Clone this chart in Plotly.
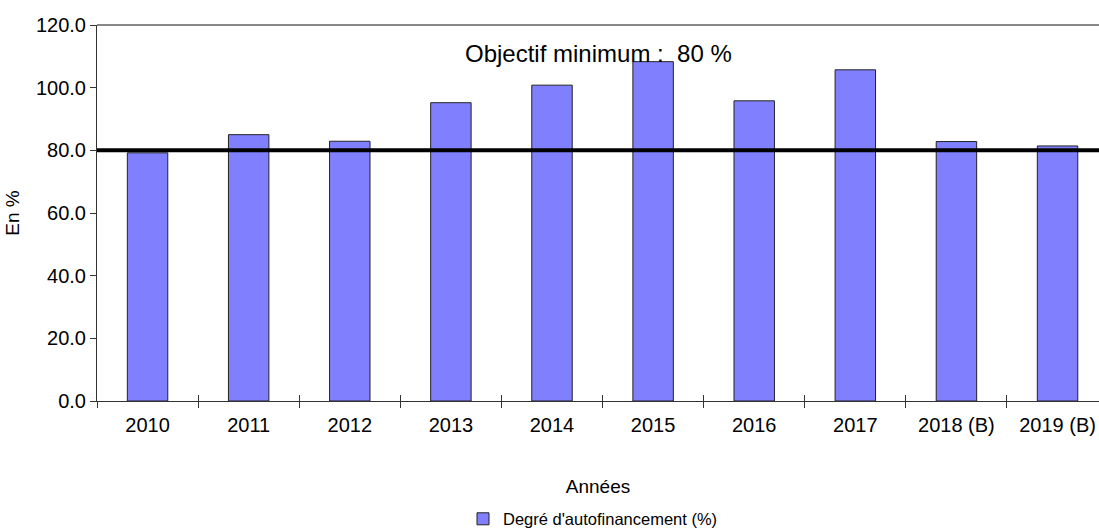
import plotly.graph_objects as go

categories = ["2010", "2011", "2012", "2013", "2014", "2015", "2016", "2017", "2018 (B)", "2019 (B)"]
autofinancement = [79.2, 85.0, 82.9, 95.2, 100.8, 108.3, 95.8, 105.7, 82.8, 81.4]
objectif = 80
y_ticks = [0, 20, 40, 60, 80, 100, 120]
series_name = "Degré d'autofinancement (%)"

FONT = "Liberation Sans, Arial, sans-serif"
X_RANGE = [-0.5, 9.41]

fig = go.Figure()
fig.add_trace(go.Bar(
    x=categories, y=autofinancement, name=series_name,
    marker=dict(color="#8080FF", line=dict(color="#222222", width=1)),
    width=0.4, showlegend=True,
))
# helper trace so the overlaid tick axis (inside ticks -> crossing ticks) is drawn
fig.add_trace(go.Scatter(x=[None], y=[None], xaxis="x2", yaxis="y",
                         showlegend=False, hoverinfo="skip"))

fig.update_layout(
    width=1099, height=532,
    paper_bgcolor="white", plot_bgcolor="white",
    margin=dict(l=97, r=0, t=25, b=131, autoexpand=False),
    font=dict(family=FONT, color="black"),
    showlegend=True,
    legend=dict(
        orientation="h", x=0.495, xanchor="center", y=-0.314, yanchor="middle",
        font=dict(family=FONT, size=16.5, color="black"),
        itemwidth=30, bgcolor="rgba(0,0,0,0)",
    ),
    xaxis=dict(
        type="category", categoryorder="array", categoryarray=categories,
        range=X_RANGE, tickson="boundaries", ticks="outside", ticklen=6,
        tickcolor="#333333", showline=True, linecolor="#333333", linewidth=1,
        showgrid=False, zeroline=False, automargin=False, ticklabelstandoff=6,
        tickfont=dict(family=FONT, size=20, color="black"),
        title=dict(text="Années", font=dict(family=FONT, size=19, color="black"), standoff=44),
    ),
    xaxis2=dict(
        overlaying="x", range=X_RANGE,
        tickvals=[i - 0.5 for i in range(len(categories) + 1)],
        ticks="inside", ticklen=6, tickcolor="#333333", showticklabels=False,
        showgrid=False, zeroline=False, showline=False, side="bottom", anchor="y",
        automargin=False,
    ),
    yaxis=dict(
        range=[0, 120], tickvals=y_ticks, tickformat=".1f",
        ticks="outside", ticklen=6, tickcolor="#333333",
        showline=True, linecolor="#333333", linewidth=1,
        showgrid=False, zeroline=False, automargin=False,
        tickfont=dict(family=FONT, size=20, color="black"),
        title=dict(text="En %", font=dict(family=FONT, size=19, color="black"), standoff=11),
    ),
)

fig.add_shape(type="line", xref="paper", yref="paper", x0=0, x1=1, y0=1, y1=1,
              line=dict(color="#888888", width=2), layer="below")
fig.add_hline(y=objectif, line=dict(color="black", width=4))
fig.add_annotation(
    x=0.5, xref="paper", y=111, yref="y",
    text=f"Objectif minimum :\u00a0 {objectif} %",
    showarrow=False, font=dict(family=FONT, size=24, color="black"),
    xanchor="center", yanchor="middle",
)

fig.write_html("out.html", config={"displayModeBar": False},
               post_script="document.body.style.margin='0';")
